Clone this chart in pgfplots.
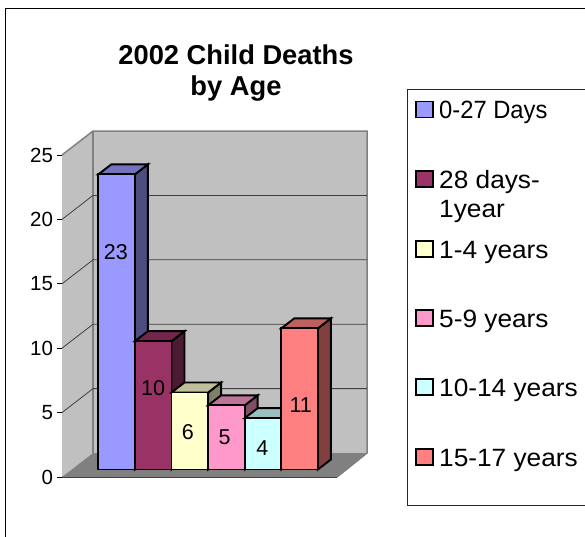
\documentclass[border=0pt]{standalone}
\usepackage{pgfplots}
\pgfplotsset{compat=1.18}
\usepackage{fontspec}
\setmainfont{Liberation Sans}
\definecolor{c1}{HTML}{9999FF}\definecolor{c1t}{HTML}{7373BF}\definecolor{c1s}{HTML}{4D4D80}
\definecolor{c2}{HTML}{993366}\definecolor{c2t}{HTML}{73264D}\definecolor{c2s}{HTML}{4D1A33}
\definecolor{c3}{HTML}{FFFFCC}\definecolor{c3t}{HTML}{BFBF99}\definecolor{c3s}{HTML}{808066}
\definecolor{c4}{HTML}{FF99CC}\definecolor{c4t}{HTML}{BF7399}\definecolor{c4s}{HTML}{804D66}
\definecolor{c5}{HTML}{CCFFFF}\definecolor{c5t}{HTML}{99BFBF}\definecolor{c5s}{HTML}{668080}
\definecolor{c6}{HTML}{FF8080}\definecolor{c6t}{HTML}{BF6060}\definecolor{c6s}{HTML}{804040}
\definecolor{wall}{HTML}{C0C0C0}\definecolor{flr}{HTML}{808080}
\newcommand{\fs}[1]{\fontsize{#1bp}{#1bp}\selectfont}
\pgfplotsset{face/.style={draw=black,line width=1.9bp,line join=miter,fill=#1,mark=none,solid},
  front/.style={ybar,bar shift=0pt,bar width=1,draw=black,line width=1.9bp,fill=#1,mark=none}}
\begin{document}
\begin{tikzpicture}[x=1bp,y=1bp]
\clip (0,0) rectangle (585,537);
\fill[white] (0,0) rectangle (585,537);
% chart frame
\draw[black,line width=1.2bp] (5.7,-5) -- (5.7,528.4) -- (600,528.4);
% walls, y axis
\begin{axis}[at={(62bp,60bp)},anchor=south west,scale only axis,width=275bp,height=322bp,
  xmin=0,xmax=275,ymin=0,ymax=25,clip=false,
  axis x line=none,axis y line=left,axis line style={black,line width=0.8bp,-},
  ytick={0,5,10,15,20,25},tick align=outside,tick style={black,line width=0.8bp},major tick length=5bp,
  yticklabel style={font=\fs{20.5},/pgf/number format/assume math mode=true,xshift=-0.5bp}]
\addplot[draw=none,fill=wall] coordinates {(31,1.86)(305,1.86)(305,26.86)(31,26.86)} -- cycle;
\addplot[draw=none,fill=wall] coordinates {(0,0)(31,1.86)(31,26.86)(0,25)} -- cycle;
\addplot[draw=none,fill=flr] coordinates {(0,0)(275,0)(305,1.86)(31,1.86)} -- cycle;
\addplot[draw=gray,line width=1.5bp] coordinates {(0,25)(31,26.86)(305,26.86)(305,1.86)(275,0)};
\addplot[draw=gray,line width=1.5bp] coordinates {(31,26.86)(31,1.86)};
\addplot[draw=black!75,line width=0.8bp] coordinates {(0,5)(31,6.86)(305,6.86)};
\addplot[draw=black!75,line width=0.8bp] coordinates {(0,10)(31,11.86)(305,11.86)};
\addplot[draw=black!75,line width=0.8bp] coordinates {(0,15)(31,16.86)(305,16.86)};
\addplot[draw=black!75,line width=0.8bp] coordinates {(0,20)(31,21.86)(305,21.86)};
\addplot[draw=black!75,line width=0.8bp] coordinates {(0,0)(275,0)};
\end{axis}
% bars
\begin{axis}[at={(98.3bp,67.5bp)},anchor=south west,scale only axis,width=219.6bp,height=320.75bp,
  xmin=-0.5,xmax=5.5,ymin=0,ymax=25,clip=false,hide axis]
\addplot[face=c1s] coordinates {(0.5,0)(0.855,0.78)(0.855,23.78)(0.5,23)} -- cycle;
\addplot[face=c1t] coordinates {(-0.5,23)(0.5,23)(0.855,23.78)(-0.145,23.78)} -- cycle;
\addplot[front=c1] coordinates {(0,23)};
\addplot[face=c2s] coordinates {(1.5,0)(1.855,0.78)(1.855,10.78)(1.5,10)} -- cycle;
\addplot[face=c2t] coordinates {(0.5,10)(1.5,10)(1.855,10.78)(0.855,10.78)} -- cycle;
\addplot[front=c2] coordinates {(1,10)};
\addplot[face=c3s] coordinates {(2.5,0)(2.855,0.78)(2.855,6.78)(2.5,6)} -- cycle;
\addplot[face=c3t] coordinates {(1.5,6)(2.5,6)(2.855,6.78)(1.855,6.78)} -- cycle;
\addplot[front=c3] coordinates {(2,6)};
\addplot[face=c4s] coordinates {(3.5,0)(3.855,0.78)(3.855,5.78)(3.5,5)} -- cycle;
\addplot[face=c4t] coordinates {(2.5,5)(3.5,5)(3.855,5.78)(2.855,5.78)} -- cycle;
\addplot[front=c4] coordinates {(3,5)};
\addplot[face=c5s] coordinates {(4.5,0)(4.855,0.78)(4.855,4.78)(4.5,4)} -- cycle;
\addplot[face=c5t] coordinates {(3.5,4)(4.5,4)(4.855,4.78)(3.855,4.78)} -- cycle;
\addplot[front=c5] coordinates {(4,4)};
\addplot[face=c6s] coordinates {(5.5,0)(5.855,0.78)(5.855,11.78)(5.5,11)} -- cycle;
\addplot[face=c6t] coordinates {(4.5,11)(5.5,11)(5.855,11.78)(4.855,11.78)} -- cycle;
\addplot[front=c6] coordinates {(5,11)};
\addplot[draw=none,mark=none,point meta=explicit symbolic,
  nodes near coords,nodes near coords align={anchor=center},
  every node near coord/.append style={font=\fs{21.5},text=black,inner sep=0pt}]
  coordinates {(-0.02,16.95)[23] (1,6.35)[10] (1.95,2.92)[6] (2.95,2.53)[5] (3.98,1.68)[4] (5.03,5.03)[11]};
\end{axis}
% title
\node[font=\bfseries\fs{27.3},anchor=base] at (236,472) {2002 Child Deaths};
\node[font=\bfseries\fs{27.3},anchor=base] at (236,441) {by Age};
% legend
\draw[black!85,line width=1bp] (407.5,31) rectangle (600,447.5);
\foreach \yy/\cc/\tt/\ss in {109.5/c1/0-27 Days/0.95,179/c2/28 days-/1.05,249/c3/1-4 years/1.05,318/c4/5-9 years/1.05,387/c5/10-14 years/1.05,457/c6/15-17 years/1.05}{
  \draw[black,line width=1.8bp,fill=\cc] (416,537-\yy-8) rectangle (433,537-\yy+8);
  \node[font=\fs{25},anchor=base west,inner sep=0pt,xscale=\ss,transform shape] at (439,537-\yy-9.5) {\tt};
}
\node[font=\fs{25},anchor=base west,inner sep=0pt,xscale=1.05,transform shape] at (439,537-218) {1year};
\end{tikzpicture}
\end{document}
